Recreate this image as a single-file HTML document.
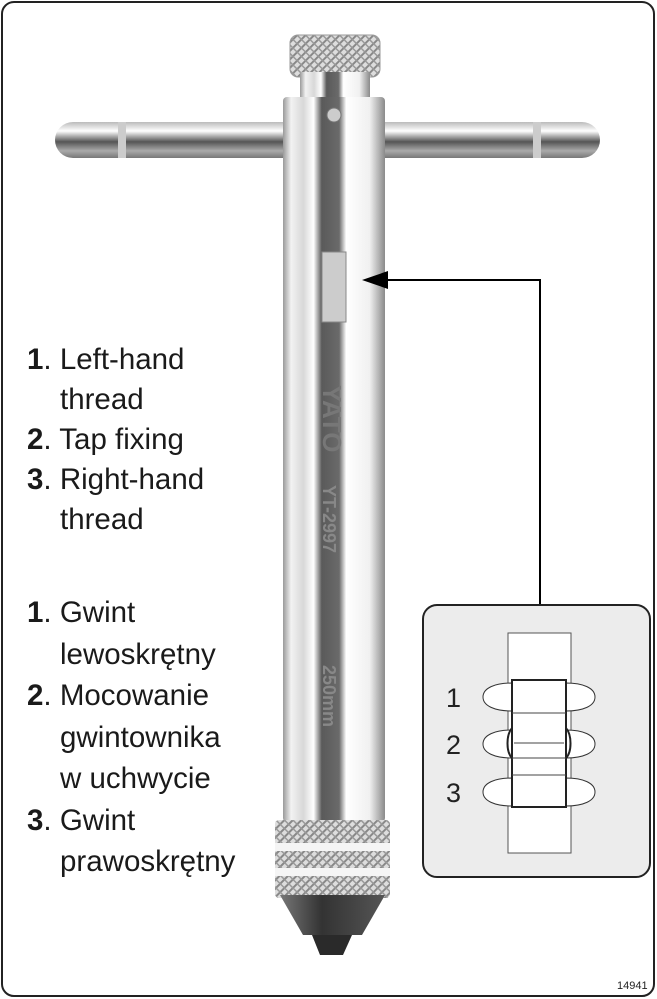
<!DOCTYPE html>
<html><head><meta charset="utf-8"><style>
html,body{margin:0;padding:0;background:#fff}
body{width:657px;height:999px;position:relative;overflow:hidden;font-family:"Liberation Sans",sans-serif}
.t{position:absolute;left:27px;font-size:29.5px;color:#1a1a1a;line-height:40px;white-space:nowrap}
.t span{display:block}
.i{padding-left:33px}
</style></head><body>
<svg width="657" height="999" style="position:absolute;left:0;top:0">
<defs>
<linearGradient id="tube" x1="0" x2="1" y1="0" y2="0">
<stop offset="0" stop-color="#9a9a9a"/><stop offset="0.08" stop-color="#f2f2f2"/><stop offset="0.2" stop-color="#d8d8d8"/><stop offset="0.3" stop-color="#ffffff"/><stop offset="0.38" stop-color="#5a5a5a"/><stop offset="0.55" stop-color="#6a6a6a"/><stop offset="0.62" stop-color="#ffffff"/><stop offset="0.85" stop-color="#f0f0f0"/><stop offset="1" stop-color="#8a8a8a"/>
</linearGradient>
<linearGradient id="bar" x1="0" x2="0" y1="0" y2="1">
<stop offset="0" stop-color="#bbb"/><stop offset="0.25" stop-color="#fff"/><stop offset="0.55" stop-color="#555"/><stop offset="0.8" stop-color="#aaa"/><stop offset="1" stop-color="#777"/>
</linearGradient>
<linearGradient id="cone" x1="0" x2="1"><stop offset="0" stop-color="#777"/><stop offset="0.4" stop-color="#333"/><stop offset="1" stop-color="#555"/></linearGradient>
<pattern id="knurl" width="6" height="6" patternUnits="userSpaceOnUse" patternTransform="rotate(45)">
<rect width="6" height="6" fill="#ddd"/><rect width="2" height="6" fill="#888"/><rect width="6" height="1.5" fill="#999"/></pattern>
</defs>
<rect x="2" y="2" width="652" height="994" rx="12" fill="#fff" stroke="#222" stroke-width="2"/>
<rect x="55" y="122" width="545" height="36" rx="18" fill="url(#bar)"/>
<rect x="118" y="122" width="8" height="36" fill="#ccc"/>
<rect x="533" y="122" width="8" height="36" fill="#ccc"/>
<rect x="290" y="35" width="90" height="42" rx="8" fill="url(#knurl)" stroke="#999"/>
<rect x="300" y="72" width="70" height="28" fill="url(#tube)"/>
<rect x="283" y="97" width="102" height="725" rx="4" fill="url(#tube)"/>
<circle cx="334" cy="115" r="7" fill="#ccc" stroke="#777"/>
<rect x="322" y="252" width="24" height="70" fill="#ccc" stroke="#888"/>
<text x="0" y="0" transform="translate(323,385) rotate(90)" font-family="Liberation Sans" font-weight="bold" font-size="26" fill="#777">YATO</text>
<text x="0" y="0" transform="translate(323,485) rotate(90)" font-family="Liberation Sans" font-weight="bold" font-size="18" fill="#888">YT-2997</text>
<text x="0" y="0" transform="translate(323,665) rotate(90)" font-family="Liberation Sans" font-weight="bold" font-size="18" fill="#888">250mm</text>
<rect x="275" y="820" width="115" height="78" rx="4" fill="url(#knurl)"/>
<rect x="275" y="843" width="115" height="8" fill="#f5f5f5"/>
<rect x="275" y="868" width="115" height="8" fill="#f5f5f5"/>
<path d="M280 895 L385 895 L362 935 L303 935 Z" fill="url(#cone)"/>
<path d="M312 935 L352 935 L343 955 L320 955 Z" fill="#2a2a2a"/>
<path d="M385 280 L540 280 L540 605" fill="none" stroke="#000" stroke-width="2"/>
<path d="M362 280 L388 271 L388 289 Z" fill="#000"/>
<rect x="423" y="605" width="227" height="272" rx="14" fill="#ececec" stroke="#222" stroke-width="2"/>
<rect x="508" y="633" width="63" height="220" fill="#fff" stroke="#555"/>
<g fill="#fff" stroke="#333" stroke-width="1">
<path d="M512 683 C495 683 483 688 483 697 C483 706 495 711 512 711 Z"/>
<path d="M566 683 C583 683 595 688 595 697 C595 706 583 711 566 711 Z"/>
<path d="M512 730 C495 730 483 735 483 744 C483 753 495 758 512 758 Z"/>
<path d="M566 730 C583 730 595 735 595 744 C595 753 583 758 566 758 Z"/>
<path d="M512 778 C495 778 483 783 483 792 C483 801 495 806 512 806 Z"/>
<path d="M566 778 C583 778 595 783 595 792 C595 801 583 806 566 806 Z"/>
</g>
<rect x="512" y="680" width="54" height="127" fill="#fff" stroke="#222" stroke-width="2"/>
<g stroke="#444"><line x1="512" y1="713" x2="566" y2="713"/><line x1="514" y1="743" x2="564" y2="743"/><line x1="512" y1="758" x2="566" y2="758"/><line x1="512" y1="775" x2="566" y2="775"/></g>
<path d="M512 728 C506 735 506 752 512 758 M566 728 C572 735 572 752 566 758" fill="none" stroke="#222" stroke-width="2"/>
<g font-family="Liberation Sans" font-size="27" fill="#222">
<text x="446" y="707">1</text><text x="446" y="754">2</text><text x="446" y="802">3</text></g>
<text x="617" y="989" font-family="Liberation Sans" font-size="11" fill="#222">14941</text>
</svg>
<div class="t" style="top:340px"><span><b>1</b>. Left-hand</span><span class="i">thread</span><span><b>2</b>. Tap fixing</span><span><b>3</b>. Right-hand</span><span class="i">thread</span></div>
<div class="t" style="top:592px;line-height:41.5px"><span><b>1</b>. Gwint</span><span class="i">lewoskrętny</span><span><b>2</b>. Mocowanie</span><span class="i">gwintownika</span><span class="i">w uchwycie</span><span><b>3</b>. Gwint</span><span class="i">prawoskrętny</span></div>
</body></html>
